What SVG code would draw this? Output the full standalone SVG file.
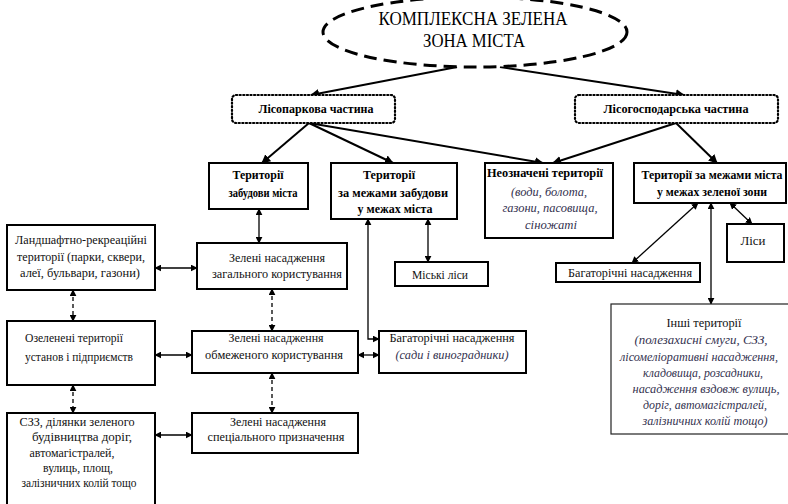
<svg xmlns="http://www.w3.org/2000/svg" width="788" height="504" viewBox="0 0 788 504" font-family="Liberation Serif, Times New Roman, DejaVu Serif, serif">
<defs>
<marker id="ah" viewBox="0 0 10 10" refX="9" refY="5" markerWidth="7" markerHeight="7" markerUnits="userSpaceOnUse" orient="auto-start-reverse">
<path d="M0,0 L10,5 L0,10 z" fill="#000"/>
</marker>
<marker id="ahb" viewBox="0 0 10 10" refX="9" refY="5" markerWidth="9" markerHeight="9" markerUnits="userSpaceOnUse" orient="auto-start-reverse">
<path d="M0,0 L10,5 L0,10 z" fill="#000"/>
</marker>
<style>
.box{fill:#fff;stroke:#000;stroke-width:2}
.dot{fill:#fff;stroke:#000;stroke-width:2.2;stroke-dasharray:1.2 2.4;stroke-linecap:round}
.thin{fill:#fff;stroke:#222;stroke-width:1.2}
text{font-family:"Liberation Serif","Times New Roman","DejaVu Serif",serif}
.t{font-size:13px;fill:#111;text-anchor:middle}
.b{font-size:12px;font-weight:bold;fill:#000;text-anchor:middle}
.i{font-size:12.5px;font-style:italic;fill:#34324f;text-anchor:middle}
.ttl{font-size:18px;fill:#000;text-anchor:middle}
.c{fill:none;stroke:#000;stroke-width:1.3}
.cb{fill:none;stroke:#000;stroke-width:2}
.d{stroke-dasharray:4 3}
</style>
</defs>
<rect width="788" height="504" fill="#fff"/>

<g id="connectors">
<path class="cb" d="M457,67 L311,95" marker-end="url(#ahb)"/>
<path class="cb" d="M500,67 L684,95" marker-end="url(#ahb)"/>
<path class="cb" d="M309,123 L262,163" marker-end="url(#ahb)"/>
<path class="cb" d="M309,123 L393,163" marker-end="url(#ahb)"/>
<path class="cb" d="M309,123 L543,163" marker-end="url(#ahb)"/>
<path class="cb" d="M676,123 L553,163" marker-end="url(#ahb)"/>
<path class="cb" d="M676,123 L717,163" marker-end="url(#ahb)"/>
<path class="c" d="M259,209 L259,243" marker-start="url(#ah)" marker-end="url(#ah)"/>
<path class="c" d="M155,268 L197,268" marker-start="url(#ah)" marker-end="url(#ah)"/>
<path class="c d" d="M73,290 L73,321" marker-start="url(#ah)" marker-end="url(#ah)"/>
<path class="c d" d="M272,289 L272,331" marker-start="url(#ah)" marker-end="url(#ah)"/>
<path class="c" d="M155,355 L192,355" marker-start="url(#ah)" marker-end="url(#ah)"/>
<path class="c d" d="M73,385 L73,413" marker-start="url(#ah)" marker-end="url(#ah)"/>
<path class="c d" d="M272,373 L272,413" marker-start="url(#ah)" marker-end="url(#ah)"/>
<path class="c" d="M155,435 L192,435" marker-start="url(#ah)" marker-end="url(#ah)"/>
<path class="c" d="M368,219 L368,339 L379,339" marker-start="url(#ah)" marker-end="url(#ah)"/>
<path class="c" d="M358,355 L379,355" marker-start="url(#ah)" marker-end="url(#ah)"/>
<path class="c" d="M428,219 L428,262" marker-start="url(#ah)" marker-end="url(#ah)"/>
<path class="c" d="M698,203 L632,263" marker-start="url(#ah)" marker-end="url(#ah)"/>
<path class="c" d="M711,203 L711,304" marker-start="url(#ah)" marker-end="url(#ah)"/>
<path class="c" d="M730,203 L752,224" marker-start="url(#ah)" marker-end="url(#ah)"/>
</g>

<g id="n-main">
<ellipse cx="475" cy="32" rx="152" ry="35" fill="#fff" stroke="#000" stroke-width="3" stroke-dasharray="13 7"/>
<text class="ttl" x="473" y="25" textLength="189" lengthAdjust="spacingAndGlyphs">КОМПЛЕКСНА ЗЕЛЕНА</text>
<text class="ttl" x="474" y="47" textLength="102" lengthAdjust="spacingAndGlyphs">ЗОНА МІСТА</text>
</g>

<g id="n-lisopark">
<rect class="dot" x="232" y="95" width="163" height="28" rx="4"/>
<text class="b" x="316" y="113" textLength="115" lengthAdjust="spacingAndGlyphs">Лісопаркова частина</text>
</g>

<g id="n-lisogosp">
<rect class="dot" x="575" y="95" width="203" height="28" rx="4"/>
<text class="b" x="676" y="113" textLength="145" lengthAdjust="spacingAndGlyphs">Лісогосподарська частина</text>
</g>

<g id="n-terr-zab">
<rect class="box" x="209" y="163" width="99" height="46"/>
<text class="b" x="258" y="179" textLength="51" lengthAdjust="spacingAndGlyphs">Території</text>
<text class="b" x="263" y="197" textLength="69" lengthAdjust="spacingAndGlyphs">забудови міста</text>
</g>

<g id="n-terr-mezh">
<rect class="box" x="331" y="163" width="126" height="56"/>
<text class="b" x="389" y="179" textLength="52" lengthAdjust="spacingAndGlyphs">Території</text>
<text class="b" x="393" y="197" textLength="110" lengthAdjust="spacingAndGlyphs">за межами забудови</text>
<text class="b" x="395" y="213" textLength="75" lengthAdjust="spacingAndGlyphs">у межах міста</text>
</g>

<g id="n-neozn">
<rect class="box" x="485" y="163" width="128" height="75"/>
<text class="b" x="545" y="177" textLength="116" lengthAdjust="spacingAndGlyphs">Неозначені території</text>
<text class="i" x="549" y="196" textLength="76" lengthAdjust="spacingAndGlyphs">(води, болота,</text>
<text class="i" x="550" y="212" textLength="95" lengthAdjust="spacingAndGlyphs">газони, пасовища,</text>
<text class="i" x="551" y="229" textLength="52" lengthAdjust="spacingAndGlyphs">сіножаті</text>
</g>

<g id="n-terr-zel">
<rect class="box" x="634" y="163" width="152" height="40"/>
<text class="b" x="712" y="179" textLength="141" lengthAdjust="spacingAndGlyphs">Території за межами міста</text>
<text class="b" x="712" y="196" textLength="110" lengthAdjust="spacingAndGlyphs">у межах зеленої зони</text>
</g>

<g id="n-lisy">
<rect class="box" x="727" y="224" width="57" height="38"/>
<text class="t" x="753" y="245" textLength="25" lengthAdjust="spacingAndGlyphs">Ліси</text>
</g>

<g id="n-bagat-r">
<rect class="box" x="556" y="263" width="144" height="19"/>
<text class="t" x="630" y="277" textLength="124" lengthAdjust="spacingAndGlyphs">Багаторічні насадження</text>
</g>

<g id="n-inshi">
<rect class="thin" x="611" y="304" width="190" height="130"/>
<text class="t" x="704" y="327" style="font-size:12.5px" textLength="75" lengthAdjust="spacingAndGlyphs">Інші території</text>
<text class="i" x="701" y="344" textLength="133" lengthAdjust="spacingAndGlyphs">(полезахисні смуги, СЗЗ,</text>
<text class="i" x="699" y="361" textLength="158" lengthAdjust="spacingAndGlyphs">лісомеліоративні насадження,</text>
<text class="i" x="703" y="377" textLength="120" lengthAdjust="spacingAndGlyphs">кладовища, розсадники,</text>
<text class="i" x="706" y="393" textLength="147" lengthAdjust="spacingAndGlyphs">насадження вздовж вулиць,</text>
<text class="i" x="705" y="409" textLength="124" lengthAdjust="spacingAndGlyphs">доріг, автомагістралей,</text>
<text class="i" x="705" y="425" textLength="125" lengthAdjust="spacingAndGlyphs">залізничних колій тощо)</text>
</g>

<g id="n-landsh">
<rect class="box" x="7" y="225" width="148" height="65"/>
<text class="t" x="81" y="244" textLength="132" lengthAdjust="spacingAndGlyphs">Ландшафтно-рекреаційні</text>
<text class="t" x="81" y="261" textLength="128" lengthAdjust="spacingAndGlyphs">території (парки, сквери,</text>
<text class="t" x="80" y="277" textLength="120" lengthAdjust="spacingAndGlyphs">алеї, бульвари, газони)</text>
</g>

<g id="n-zel-zag">
<rect class="box" x="197" y="243" width="150" height="46"/>
<text class="t" x="277" y="262" textLength="96" lengthAdjust="spacingAndGlyphs">Зелені насадження</text>
<text class="t" x="277" y="278" textLength="130" lengthAdjust="spacingAndGlyphs">загального користування</text>
</g>

<g id="n-ozel">
<rect class="box" x="7" y="321" width="148" height="64"/>
<text class="t" x="74" y="342" textLength="98" lengthAdjust="spacingAndGlyphs">Озеленені території</text>
<text class="t" x="79" y="361" textLength="108" lengthAdjust="spacingAndGlyphs">установ і підприємств</text>
</g>

<g id="n-zel-obm">
<rect class="box" x="192" y="331" width="166" height="42"/>
<text class="t" x="276" y="342" textLength="95" lengthAdjust="spacingAndGlyphs">Зелені насадження</text>
<text class="t" x="274" y="359" textLength="138" lengthAdjust="spacingAndGlyphs">обмеженого користування</text>
</g>

<g id="n-bagat-m">
<rect class="box" x="379" y="331" width="147" height="42"/>
<text class="t" x="452" y="342" textLength="125" lengthAdjust="spacingAndGlyphs">Багаторічні насадження</text>
<text class="i" x="452" y="359" textLength="113" lengthAdjust="spacingAndGlyphs">(сади і виноградники)</text>
</g>

<g id="n-miski">
<rect class="box" x="395" y="262" width="93" height="24"/>
<text class="t" x="440" y="279" textLength="56" lengthAdjust="spacingAndGlyphs">Міські ліси</text>
</g>

<g id="n-szz">
<rect class="box" x="7" y="413" width="148" height="96"/>
<text class="t" x="77" y="426" textLength="115" lengthAdjust="spacingAndGlyphs">СЗЗ, ділянки зеленого</text>
<text class="t" x="82" y="441" textLength="100" lengthAdjust="spacingAndGlyphs">будівництва доріг,</text>
<text class="t" x="72" y="457" textLength="85" lengthAdjust="spacingAndGlyphs">автомагістралей,</text>
<text class="t" x="78" y="472" textLength="70" lengthAdjust="spacingAndGlyphs">вулиць, площ,</text>
<text class="t" x="79" y="487" textLength="115" lengthAdjust="spacingAndGlyphs">залізничних колій тощо</text>
</g>

<g id="n-zel-spec">
<rect class="box" x="192" y="413" width="166" height="40"/>
<text class="t" x="278" y="426" textLength="96" lengthAdjust="spacingAndGlyphs">Зелені насадження</text>
<text class="t" x="276" y="441" textLength="137" lengthAdjust="spacingAndGlyphs">спеціального призначення</text>
</g>
</svg>
